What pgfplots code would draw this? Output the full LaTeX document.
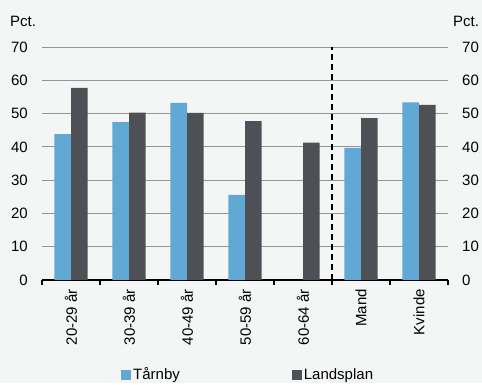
\documentclass[border=0pt]{standalone}
\usepackage{pgfplots}
\pgfplotsset{compat=1.18}
\usepackage{fontspec}
\setmainfont{Liberation Sans}
\usetikzlibrary{backgrounds}
\definecolor{bgc}{HTML}{F4F6F6}
\definecolor{tarn}{HTML}{62A8D4}
\definecolor{land}{HTML}{4F5056}
\definecolor{gridc}{HTML}{959595}

\begin{document}
\fontsize{15bp}{18bp}\selectfont
\begin{tikzpicture}
\begin{axis}[
    scale only axis,
    width=406bp, height=233bp,
    clip=false,
    ymin=0, ymax=70,
    ytick={0,10,...,70},
    xmin=-0.5, xmax=6.5,
    xtick={0,...,6},
    xticklabels={20-29 år,30-39 år,40-49 år,50-59 år,60-64 år,Mand,Kvinde},
    minor xtick={-0.5,0.5,...,6.5},
    major tick length=0pt,
    minor tick length=5bp,
    tick align=outside,
    minor tick style={black, line width=1.2bp},
    axis x line*=bottom,
    axis y line*=left,
    x axis line style={black, line width=1.5bp},
    y axis line style={draw=none},
    ymajorgrids,
    grid style={gridc, line width=0.8bp},
    /pgf/number format/assume math mode=true,
    yticklabel style={anchor=east, inner sep=0pt, xshift=-14bp},
    xticklabel shift=9bp,
    xticklabel style={rotate=90, anchor=east, inner sep=0pt},
    ybar=0pt,
    bar width=0.288,
    legend style={at={(0.1946,-0.408)}, anchor=west, draw=none, fill=none,
      inner sep=0pt, legend columns=2,
      /tikz/every even column/.append style={column sep=110bp},
      nodes={inner sep=2bp}},
    legend image code/.code={\fill[#1] (0bp,-5bp) rectangle (10bp,5bp);},
]
\addplot[fill=tarn, draw=none] coordinates {
    (0,43.8) (1,47.4) (2,53.2) (3,25.6) (5,39.7) (6,53.4)
};
\addlegendentry{Tårnby}
\addplot[fill=land, draw=none] coordinates {
    (0,57.7) (1,50.3) (2,50.2) (3,47.7) (4,41.3) (5,48.6) (6,52.6)
};
\addlegendentry{Landsplan}
\draw[black, line width=1.5bp, dash pattern=on 6bp off 4bp] (axis cs:4.5,0) -- (axis cs:4.5,70);
\node[anchor=base west, inner sep=0pt] at ([xshift=-32bp, yshift=21bp]rel axis cs:0,1) {Pct.};
\node[anchor=base west, inner sep=0pt] at ([xshift=5bp, yshift=21bp]rel axis cs:1,1) {Pct.};
\end{axis}
\begin{axis}[
    scale only axis,
    width=406bp, height=233bp,
    ymin=0, ymax=70,
    ytick={0,10,...,70},
    xmin=-0.5, xmax=6.5,
    xtick=\empty,
    major tick length=0pt,
    axis x line=none,
    axis y line*=right,
    y axis line style={draw=none},
    /pgf/number format/assume math mode=true,
    yticklabel style={anchor=west, inner sep=0pt, xshift=14bp},
]
\end{axis}
\begin{pgfonlayer}{background}
\fill[bgc] (-42bp,-103bp) rectangle (440bp,280bp);
\end{pgfonlayer}
\end{tikzpicture}
\end{document}
